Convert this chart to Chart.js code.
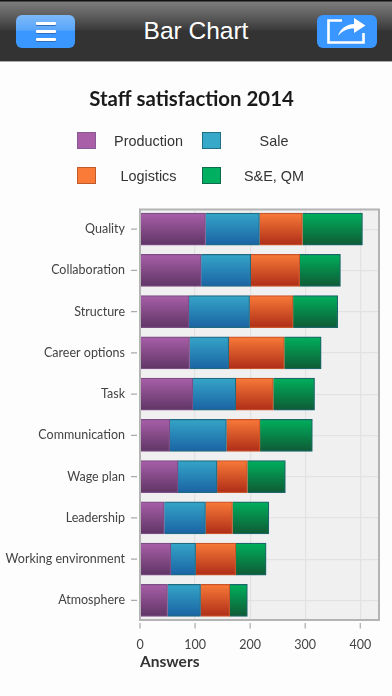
<!DOCTYPE html>
<html><head><meta charset="utf-8">
<script src="https://cdn.jsdelivr.net/npm/chart.js@4"></script>
<style>
html,body{margin:0;padding:0;background:#fdfdfd;width:392px;height:696px;overflow:hidden;font-family:"Liberation Sans",sans-serif}
#hdr{position:absolute;left:0;top:0;width:392px;height:61px;background:linear-gradient(#111 0,#111 1px,#7c7c7c 2px,#585858 18px,#3a3a3a 30px,#333 31px,#333 60px);border-bottom:1px solid #aaa;box-sizing:content-box}
#hdr .t{position:absolute;left:0;right:0;top:15px;text-align:center;color:#fff;font-size:24.5px;line-height:32px}
.btn{position:absolute;top:15px;height:33px;border-radius:6px;background:linear-gradient(#7db9f8 0,#5aa6fa 45%,#3a97ff 50%,#3a97ff 100%);border:0}
#b1{left:16px;width:59px}
#b2{left:317px;width:60px;top:15px;height:33px;background:#3a97ff}
.bar{position:absolute;left:20px;width:20px;height:3px;background:#fff;border-radius:1px;box-shadow:0 1px 0 #2f6fb8}
#wrap{position:absolute;left:0;top:62px;width:392px;height:634px}
.lg{position:absolute;width:19px;height:17px;box-sizing:border-box;border:1px solid}
.lt{position:absolute;font-size:14.4px;color:#333;text-align:center;line-height:18px;white-space:nowrap}
</style></head><body>
<div id="hdr"><div class="t">Bar Chart</div>
<div class="btn" id="b1"><div class="bar" style="top:7px"></div><div class="bar" style="top:15px"></div><div class="bar" style="top:23px"></div></div>
<div class="btn" id="b2"><svg width="60" height="33" viewBox="0 0 60 33"><path d="M25 5.5H11.5V27.5H46.5V18" fill="none" stroke="#fff" stroke-width="2.6"/><path d="M21 21C23 14 29 9.5 37 9V3L48.5 10.5L37 18V13.5C30 13.5 25 16 21 21Z" fill="#fff"/></svg></div>
</div>
<div id="wrap"><canvas id="c" width="392" height="634"></canvas></div>
<div id="legend"></div>
<script>
const categories=["Quality","Collaboration","Structure","Career options","Task","Communication","Wage plan","Leadership","Working environment","Atmosphere"];
const seriesNames=["Production","Sale","Logistics","S&E, QM"];
const production=[119,111,89,90,96,54,69,44,56,50];
const sale=[98,90,110,71,78,103,71,75,45,60];
const logistics=[78,89,79,101,68,61,55,49,73,53];
const seQm=[109,74,81,67,75,95,69,66,55,32];
const xTicks=[0,100,200,300,400];
const swatch=["#a85fa8","#38a8c8","#fa7a38","#00b060"];
const swatchBorder=["#8a5a94","#1f6f86","#c05a2a","#0f6a50"];
const gradTop=["#a85fa8","#35a5c8","#f97a38","#00b05c"];
const gradBottom=["#5f3565","#1a63a3","#ae2d18","#0f5a35"];
const borderCol=["#7d4d85","#1f6a80","#c8552a","#1a6668"];
const legendPos=[[76.5,132],[202,132],[76.5,167],[202,167]];

const lg=document.getElementById('legend');
seriesNames.forEach((n,i)=>{
  const s=document.createElement('div');s.className='lg';
  s.style.left=legendPos[i][0]+'px';s.style.top=legendPos[i][1]+'px';s.style.background=swatch[i];s.style.borderColor=swatchBorder[i];
  lg.appendChild(s);
  const t=document.createElement('div');t.className='lt';t.textContent=n;
  t.style.left=(i%2==0?98.5:224)+'px';t.style.width='100px';t.style.top=(legendPos[i][1]-0.5)+'px';
  lg.appendChild(t);
});
const barH=32;
function grad(i){return function(ctx){
  if(ctx.type!=='data')return swatch[i];
  const y=ctx.chart.scales.y;if(!y)return swatch[i];
  const c=y.getPixelForValue(ctx.dataIndex);
  if(!Number.isFinite(c))return swatch[i];
  const g=ctx.chart.ctx.createLinearGradient(0,c-barH/2,0,c+barH/2);
  g.addColorStop(0,gradTop[i]);g.addColorStop(1,gradBottom[i]);return g;
}}
const plotBg={id:'plotBg',
 beforeDraw(ch){const a=ch.chartArea,c=ch.ctx;c.save();c.fillStyle='#f0f0f0';c.fillRect(a.left,a.top+1,a.width,a.height-2);c.restore();},
 afterDatasetsDraw(ch){const a=ch.chartArea,c=ch.ctx;c.save();c.strokeStyle='#b4b4b4';c.lineWidth=2;c.strokeRect(a.left,a.top+1,a.width,a.height-2);
  c.strokeStyle='#aaa';c.lineWidth=1.2;c.beginPath();
  ch.scales.y.ticks.forEach((t,i)=>{const p=ch.scales.y.getPixelForTick(i);c.moveTo(131,p);c.lineTo(137,p);});
  xTicks.forEach(v=>{const p=ch.scales.x.getPixelForValue(v);c.moveTo(p,a.bottom+2);c.lineTo(p,a.bottom+7.5);});
  c.stroke();c.restore();}};
const data=[production,sale,logistics,seQm];
new Chart(document.getElementById('c'),{
 type:'bar',
 data:{labels:categories,datasets:seriesNames.map((n,i)=>({label:n,data:data[i],backgroundColor:grad(i),borderColor:borderCol[i],borderWidth:1.2,barThickness:barH}))},
 plugins:[plotBg],
 options:{indexAxis:'y',responsive:false,animation:false,
  layout:{padding:{top:0,bottom:0,left:4,right:13}},
  plugins:{legend:{display:false},tooltip:{enabled:false},
   title:{display:true,text:'Staff satisfaction 2014',color:'#1a1a1a',font:{family:'Lato',size:20.4,weight:'bold'},padding:{top:25,bottom:97}}},
  scales:{
   x:{stacked:true,min:0,max:434,afterBuildTicks(a){a.ticks=xTicks.map(v=>({value:v}));},
    grid:{color:'#e2e2e2',lineWidth:1.2,tickLength:8,tickColor:'transparent'},border:{display:false},
    ticks:{color:'#444',font:{family:'Lato',size:12.5},padding:8,maxRotation:0,autoSkip:false},
    title:{display:true,text:'Answers',align:'start',color:'#333',font:{family:'Lato',size:15.5,weight:'bold'},padding:{top:0,bottom:25}},
    afterFit(a){a.height=75;}},
   y:{stacked:true,grid:{offset:false,color:'#e2e2e2',lineWidth:1.2,tickLength:8,tickColor:'transparent'},border:{display:false},
    ticks:{color:'#444',font:{family:'Lato',size:12.5},padding:7,autoSkip:false},
    afterFit(a){a.width=136;}}
  }}
});
</script>
</body></html>
